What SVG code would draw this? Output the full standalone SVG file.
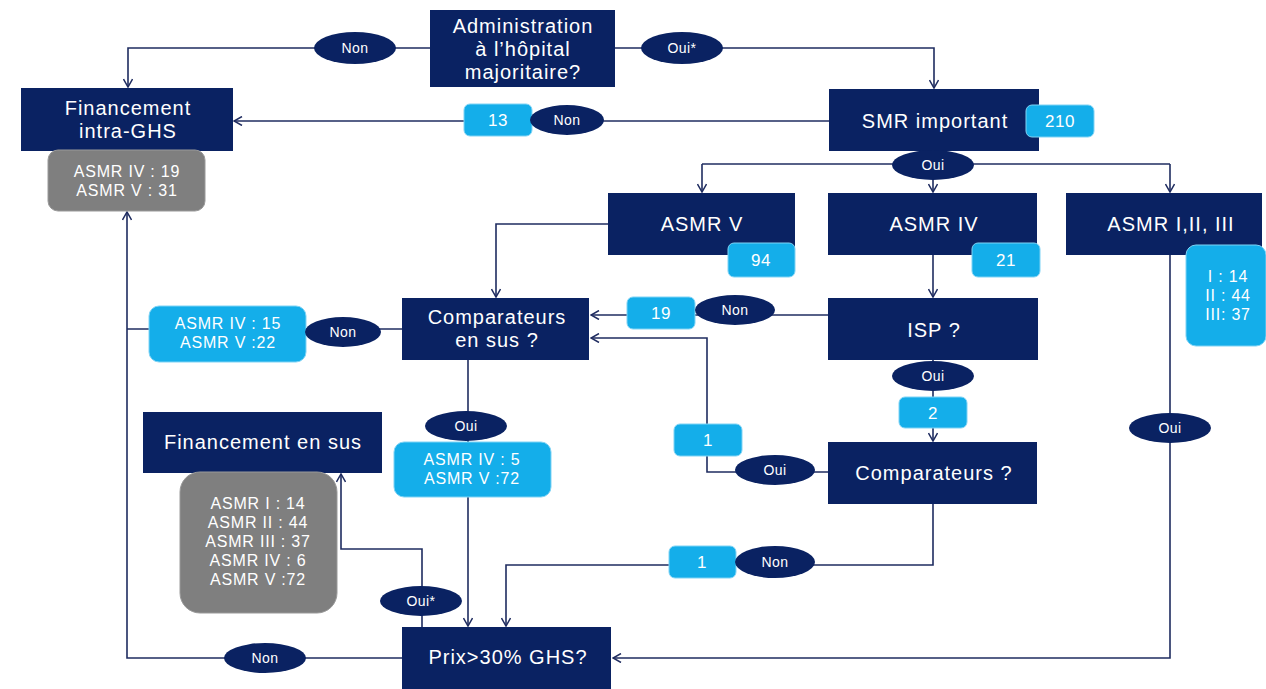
<svg xmlns="http://www.w3.org/2000/svg" width="1266" height="689" viewBox="0 0 1266 689">
<style>
.n{fill:#0a2262}
.b{fill:#14aeea;stroke:#7fd3f5;stroke-width:1}
.g{fill:#7f7f7f;stroke:#9a9a9a;stroke-width:1}
.e{fill:#0a2262}
.t{font-family:"Liberation Sans",Arial,sans-serif;fill:#ffffff;text-anchor:middle}
.big{font-size:20px;letter-spacing:1px}
.sm{font-size:14px;letter-spacing:0.4px}
.num{font-size:17px;letter-spacing:0.5px}
.mid{font-size:16px;letter-spacing:0.8px}
.c{fill:none;stroke:#1f2c60;stroke-width:1.6}
</style>
<defs>
<marker id="a" viewBox="0 0 10 10" refX="9" refY="5" markerWidth="10" markerHeight="10" markerUnits="userSpaceOnUse" orient="auto">
<path d="M1,0.5 L9,5 L1,9.5" fill="none" stroke="#1f2c60" stroke-width="1.5"/>
</marker>
</defs>
<rect width="1266" height="689" fill="#ffffff"/>
<g id="connectors">
<path class="c" d="M430,48 H128 V87" marker-end="url(#a)"/>
<path class="c" d="M615,48 H934 V88" marker-end="url(#a)"/>
<path class="c" d="M829,121 H234" marker-end="url(#a)"/>
<path class="c" d="M702,164 H1170"/>
<path class="c" d="M933,151 V192" marker-end="url(#a)"/>
<path class="c" d="M702,164 V192" marker-end="url(#a)"/>
<path class="c" d="M1170,164 V192" marker-end="url(#a)"/>
<path class="c" d="M608,224 H496 V297" marker-end="url(#a)"/>
<path class="c" d="M933,255 V297" marker-end="url(#a)"/>
<path class="c" d="M828,315 H591" marker-end="url(#a)"/>
<path class="c" d="M828,472 H707 V338 H591" marker-end="url(#a)"/>
<path class="c" d="M933,360 V441" marker-end="url(#a)"/>
<path class="c" d="M933,504 V565 H506 V626" marker-end="url(#a)"/>
<path class="c" d="M1170,255 V658 H613" marker-end="url(#a)"/>
<path class="c" d="M402,329 H127"/>
<path class="c" d="M402,658 H127 V212" marker-end="url(#a)"/>
<path class="c" d="M468,360 V626" marker-end="url(#a)"/>
<path class="c" d="M422,627 V549 H341 V474" marker-end="url(#a)"/>
</g>
<g id="admin">
<rect class="n" x="430" y="10" width="185" height="77"/>
<text class="t big" x="523" y="33">Administration</text>
<text class="t big" x="523" y="56">à l’hôpital</text>
<text class="t big" x="523" y="79">majoritaire?</text>
</g>
<g id="lbl-non-admin">
<ellipse class="e" cx="355" cy="48" rx="41" ry="16"/>
<text class="t sm" x="355" y="53">Non</text>
</g>
<g id="lbl-oui-admin">
<ellipse class="e" cx="682" cy="48" rx="41" ry="16"/>
<text class="t sm" x="682" y="53">Oui*</text>
</g>
<g id="fin-intra">
<rect class="n" x="21" y="88" width="212" height="63"/>
<text class="t big" x="128" y="115">Financement</text>
<text class="t big" x="128" y="138">intra-GHS</text>
</g>
<g id="fin-intra-count">
<rect class="g" x="48" y="150" width="157" height="61" rx="10"/>
<text class="t mid" x="127" y="177">ASMR IV : 19</text>
<text class="t mid" x="127" y="196">ASMR V : 31</text>
</g>
<g id="smr">
<rect class="n" x="829" y="89" width="210" height="62"/>
<text class="t big" x="935" y="128">SMR important</text>
</g>
<g id="smr-count">
<rect class="b" x="1026" y="105" width="68" height="32" rx="6"/>
<text class="t num" x="1060" y="127">210</text>
</g>
<g id="lbl-non-smr">
<rect class="b" x="464" y="104" width="68" height="32" rx="6"/>
<text class="t num" x="498" y="126">13</text>
<ellipse class="e" cx="567" cy="120" rx="37" ry="15"/>
<text class="t sm" x="567" y="125">Non</text>
</g>
<g id="lbl-oui-smr">
<ellipse class="e" cx="933" cy="165" rx="41" ry="15"/>
<text class="t sm" x="933" y="170">Oui</text>
</g>
<g id="asmr5">
<rect class="n" x="608" y="193" width="187" height="62"/>
<text class="t big" x="702" y="231">ASMR V</text>
<rect class="b" x="728" y="243" width="67" height="34" rx="6"/>
<text class="t num" x="761" y="266">94</text>
</g>
<g id="asmr4">
<rect class="n" x="828" y="193" width="209" height="62"/>
<text class="t big" x="934" y="231">ASMR IV</text>
<rect class="b" x="972" y="243" width="68" height="34" rx="6"/>
<text class="t num" x="1006" y="266">21</text>
</g>
<g id="asmr123">
<rect class="n" x="1066" y="193" width="196" height="62"/>
<text class="t big" x="1171" y="231">ASMR I,II, III</text>
<rect class="b" x="1186" y="245" width="80" height="101" rx="10"/>
<text class="t mid" x="1228" y="282">I : 14</text>
<text class="t mid" x="1228" y="301">II : 44</text>
<text class="t mid" x="1228" y="320">III: 37</text>
</g>
<g id="isp">
<rect class="n" x="828" y="298" width="210" height="62"/>
<text class="t big" x="934" y="337">ISP ?</text>
</g>
<g id="lbl-non-isp">
<rect class="b" x="627" y="297" width="68" height="32" rx="6"/>
<text class="t num" x="661" y="319">19</text>
<ellipse class="e" cx="735" cy="310" rx="40" ry="15"/>
<text class="t sm" x="735" y="315">Non</text>
</g>
<g id="lbl-oui-isp">
<ellipse class="e" cx="933" cy="376" rx="41" ry="15"/>
<text class="t sm" x="933" y="381">Oui</text>
<rect class="b" x="899" y="397" width="68" height="31" rx="6"/>
<text class="t num" x="933" y="419">2</text>
</g>
<g id="comp-sus">
<rect class="n" x="402" y="298" width="187" height="62"/>
<text class="t big" x="497" y="324">Comparateurs</text>
<text class="t big" x="497" y="347">en sus ?</text>
</g>
<g id="lbl-non-compsus">
<rect class="b" x="149" y="306" width="157" height="56" rx="10"/>
<text class="t mid" x="228" y="329">ASMR IV : 15</text>
<text class="t mid" x="228" y="348">ASMR V :22</text>
<ellipse class="e" cx="343" cy="332" rx="38" ry="15"/>
<text class="t sm" x="343" y="337">Non</text>
</g>
<g id="comp">
<rect class="n" x="828" y="442" width="209" height="62"/>
<text class="t big" x="934" y="480">Comparateurs ?</text>
</g>
<g id="lbl-oui-comp">
<rect class="b" x="674" y="424" width="68" height="32" rx="6"/>
<text class="t num" x="708" y="446">1</text>
<ellipse class="e" cx="775" cy="470" rx="40" ry="15"/>
<text class="t sm" x="775" y="475">Oui</text>
</g>
<g id="lbl-non-comp">
<rect class="b" x="669" y="546" width="67" height="32" rx="6"/>
<text class="t num" x="702" y="568">1</text>
<ellipse class="e" cx="775" cy="562" rx="40" ry="16"/>
<text class="t sm" x="775" y="567">Non</text>
</g>
<g id="lbl-oui-asmr123">
<ellipse class="e" cx="1170" cy="428" rx="41" ry="15"/>
<text class="t sm" x="1170" y="433">Oui</text>
</g>
<g id="lbl-oui-compsus">
<ellipse class="e" cx="466" cy="426" rx="41" ry="15"/>
<text class="t sm" x="466" y="431">Oui</text>
<rect class="b" x="394" y="442" width="157" height="55" rx="10"/>
<text class="t mid" x="472" y="465">ASMR IV : 5</text>
<text class="t mid" x="472" y="484">ASMR V :72</text>
</g>
<g id="fin-sus">
<rect class="n" x="143" y="412" width="239" height="61"/>
<text class="t big" x="263" y="449">Financement en sus</text>
</g>
<g id="fin-sus-count">
<rect class="g" x="180" y="472" width="157" height="141" rx="20"/>
<text class="t mid" x="258" y="509">ASMR I : 14</text>
<text class="t mid" x="258" y="528">ASMR II : 44</text>
<text class="t mid" x="258" y="547">ASMR III : 37</text>
<text class="t mid" x="258" y="566">ASMR IV : 6</text>
<text class="t mid" x="258" y="585">ASMR V :72</text>
</g>
<g id="lbl-oui-prix">
<ellipse class="e" cx="421" cy="601" rx="41" ry="15"/>
<text class="t sm" x="421" y="606">Oui*</text>
</g>
<g id="prix">
<rect class="n" x="402" y="627" width="209" height="62"/>
<text class="t big" x="508" y="664">Prix&gt;30% GHS?</text>
</g>
<g id="lbl-non-prix">
<ellipse class="e" cx="265" cy="658" rx="41" ry="15"/>
<text class="t sm" x="265" y="663">Non</text>
</g>
</svg>
